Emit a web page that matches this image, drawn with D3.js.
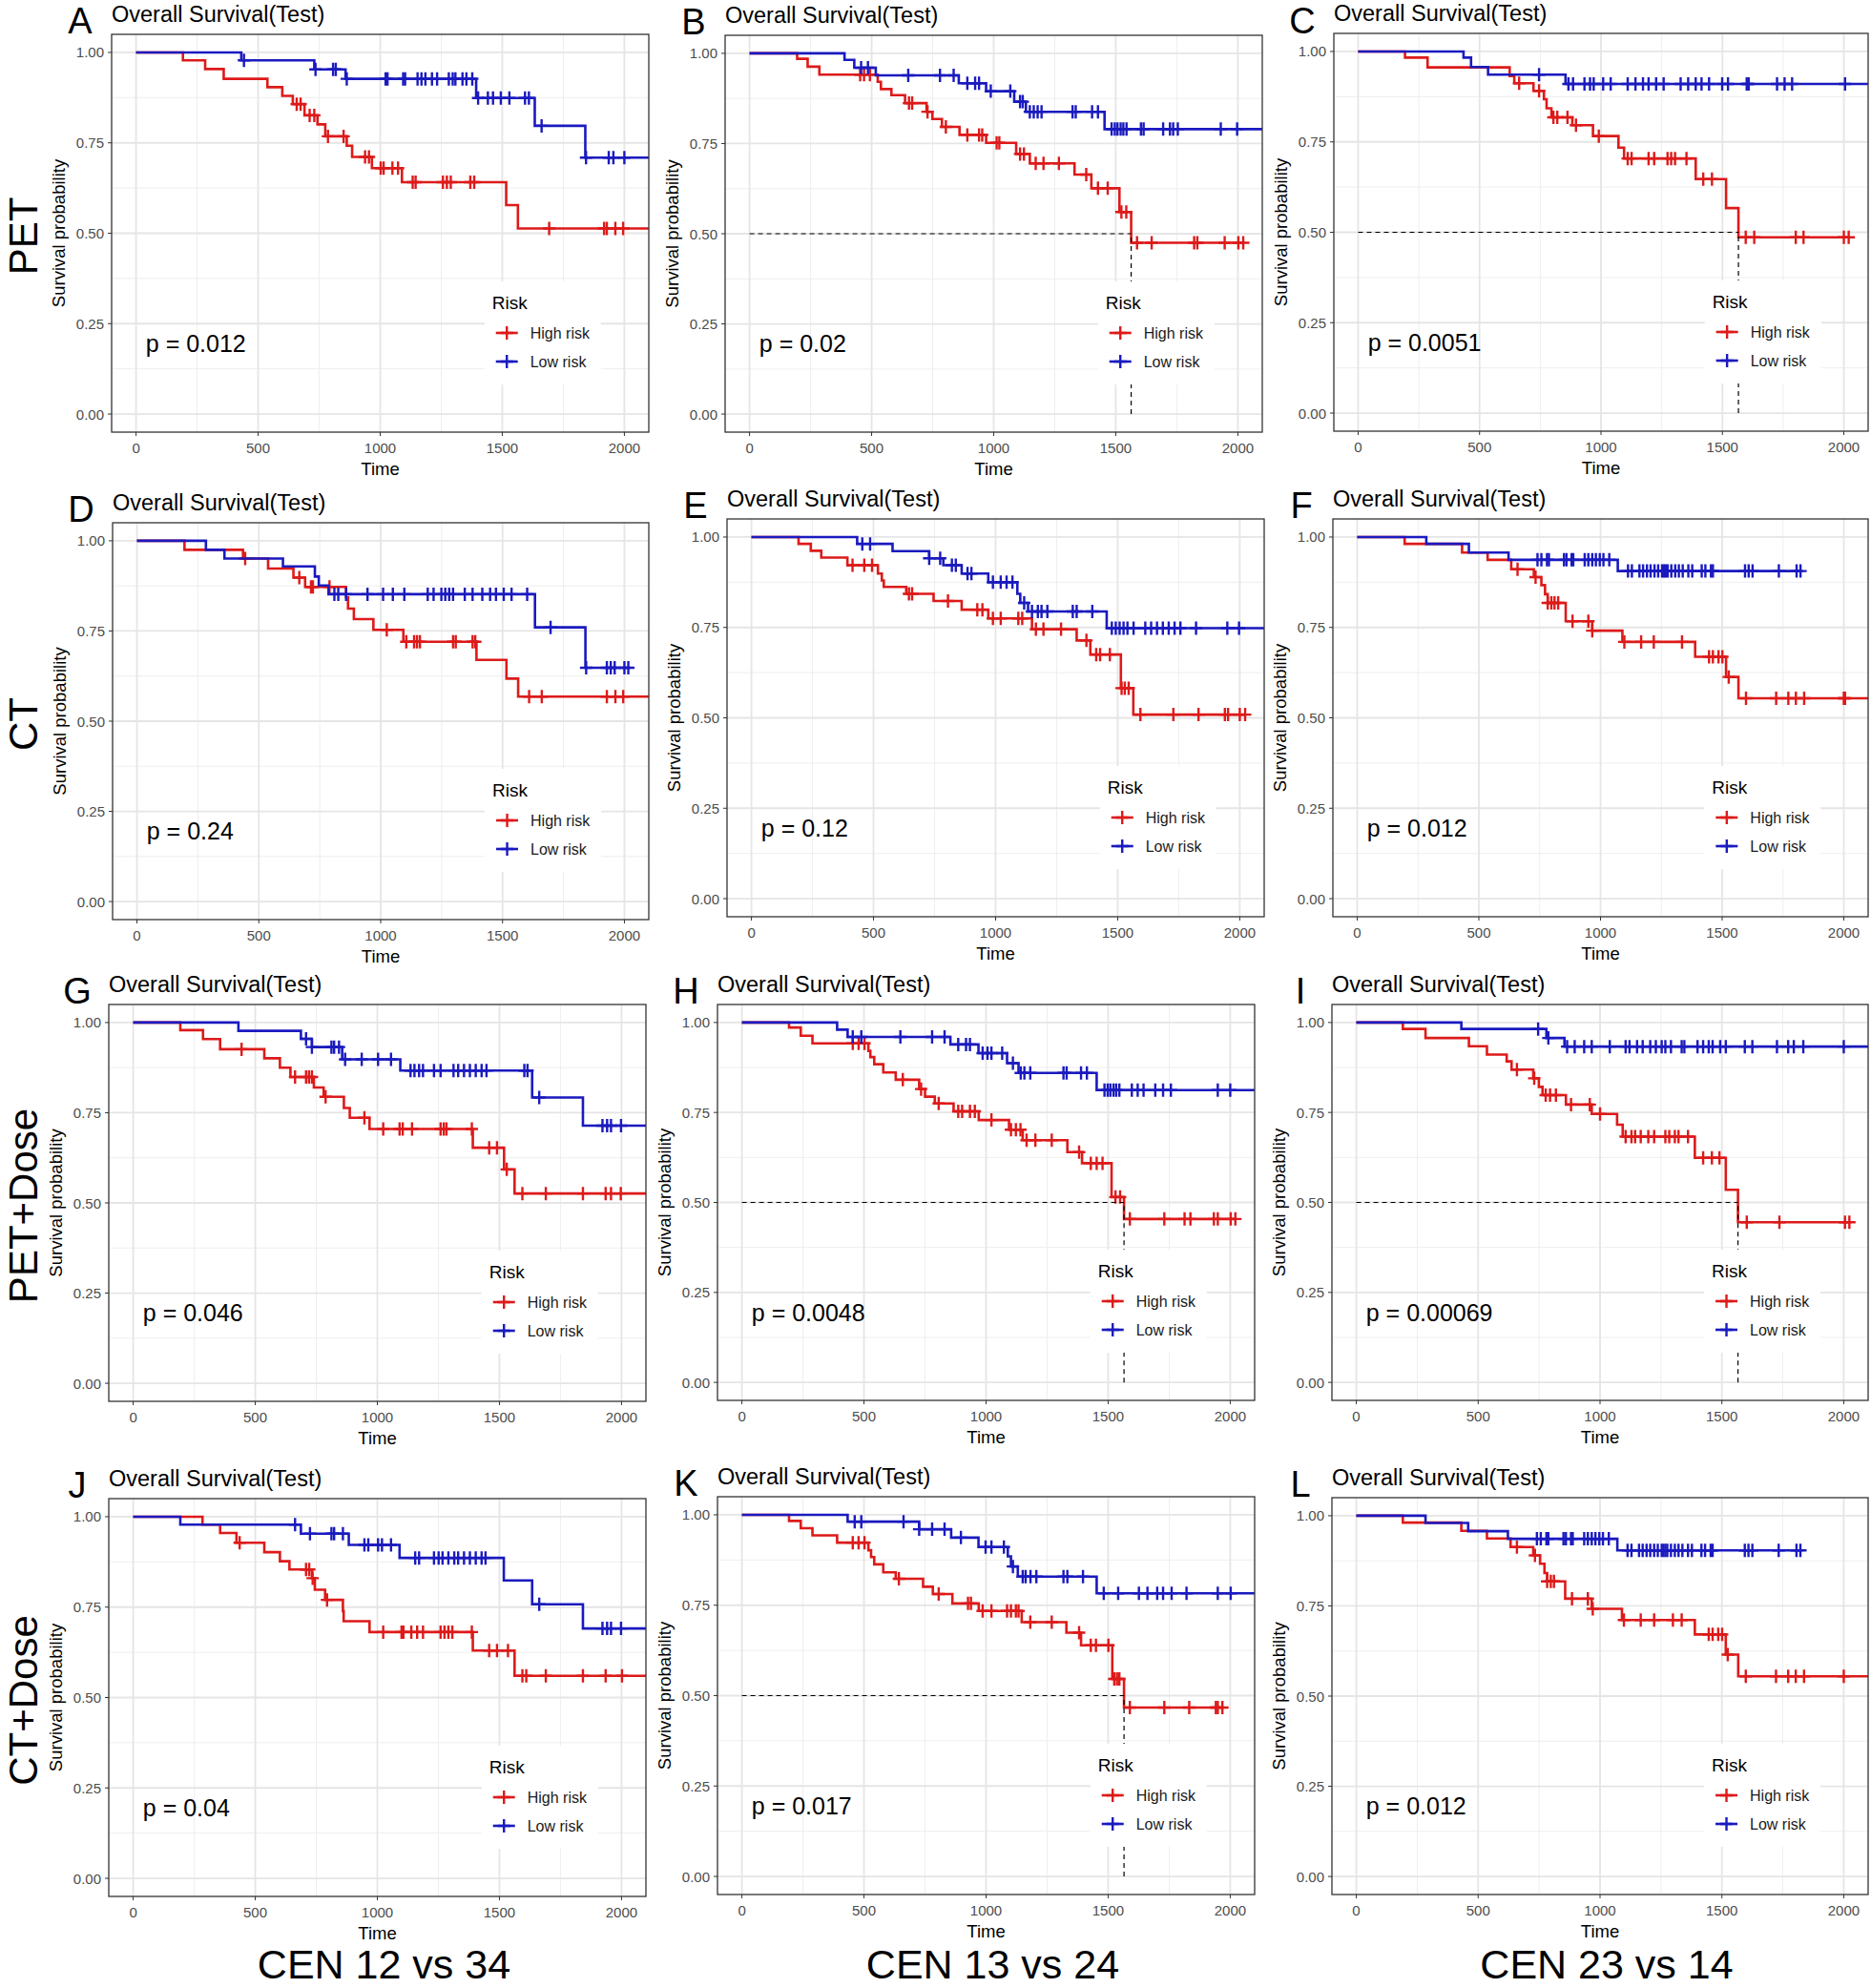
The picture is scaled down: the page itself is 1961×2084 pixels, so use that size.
<!DOCTYPE html>
<html><head><meta charset="utf-8">
<script src="https://cdn.jsdelivr.net/npm/d3@7"></script>
<style>body{margin:0;background:#fff}svg{display:block}</style>
</head><body><svg id="c" width="1961" height="2084"></svg>
<script>
// ---------------- DATA ----------------
const panelLetters = ["A","B","C","D","E","F","G","H","I","J","K","L"];
const rowLabels = ["PET","CT","PET+Dose","CT+Dose"];
const colLabels = ["CEN 12 vs 34","CEN 13 vs 24","CEN 23 vs 14"];
const plotTitle = "Overall Survival(Test)";
const pValues = ["0.012","0.02","0.0051","0.24","0.12","0.012","0.046","0.0048","0.00069","0.04","0.017","0.012"];
const groupNames = ["High risk","Low risk"];
const xTicks = [0,500,1000,1500,2000];
const yTicks = [0,0.25,0.5,0.75,1];
const yTickLabels = ["0.00","0.25","0.50","0.75","1.00"];

// steps: [time, survival after event]; censors: times
const A_high = [[192,0.978],[283,0.954],[359,0.927],[538,0.904],[599,0.880],[642,0.857],[690,0.826],[743,0.801],[775,0.768],[863,0.742],[885,0.711],[966,0.680],[1089,0.641],[1516,0.578],[1564,0.513]];
const A_highCens = [658,674,711,730,786,850,938,954,1002,1014,1050,1073,1133,1145,1257,1273,1289,1369,1385,1692,1917,1928,1963,1995,2150];
const A_low = [[431,0.978],[730,0.953],[858,0.927],[1393,0.874],[1633,0.797],[1840,0.709]];
const A_lowCens = [442,735,807,818,863,1022,1030,1094,1102,1153,1169,1185,1212,1233,1281,1297,1308,1337,1353,1377,1401,1441,1462,1494,1529,1593,1609,1661,1843,1936,1955,2000,2150];

const B_high = [[195,0.985],[238,0.963],[286,0.941],[525,0.921],[538,0.901],[581,0.884],[637,0.862],[725,0.838],[749,0.818],[788,0.796],[860,0.774],[969,0.752],[1092,0.721],[1148,0.695],[1331,0.664],[1400,0.626],[1515,0.560],[1563,0.475]];
const B_highCens = [453,469,493,653,666,729,804,892,940,953,1012,1023,1108,1124,1172,1204,1267,1379,1427,1467,1523,1543,1587,1647,1821,1834,1946,2002,2022];
const B_low = [[389,0.982],[429,0.960],[517,0.939],[857,0.917],[969,0.895],[1084,0.866],[1132,0.838],[1454,0.790]];
const B_lowCens = [457,485,650,780,836,892,924,940,988,1068,1108,1119,1148,1164,1180,1196,1323,1336,1403,1427,1483,1496,1507,1520,1531,1544,1603,1614,1694,1722,1735,1754,1930,1997,2150];

const C_high = [[193,0.983],[286,0.956],[624,0.932],[643,0.912],[722,0.891],[765,0.868],[776,0.843],[796,0.818],[882,0.796],[967,0.766],[1072,0.734],[1095,0.704],[1390,0.647],[1515,0.567],[1566,0.486]];
const C_highCens = [663,745,804,820,862,897,991,1110,1126,1196,1219,1274,1289,1305,1352,1421,1457,1596,1631,1802,1834,2000,2020];
const C_low = [[434,0.983],[465,0.957],[535,0.936],[854,0.910]];
const C_lowCens = [745,866,885,932,955,970,1009,1040,1110,1142,1173,1196,1227,1258,1328,1359,1390,1414,1445,1499,1523,1600,1608,1725,1756,1787,2005,2150];

const D_high = [[195,0.975],[435,0.951],[538,0.923],[642,0.898],[690,0.872],[858,0.843],[866,0.812],[890,0.783],[970,0.753],[1093,0.720],[1393,0.670],[1516,0.618],[1564,0.568]];
const D_highCens = [444,666,714,722,790,1025,1105,1137,1149,1161,1297,1308,1377,1388,1609,1661,1928,1963,1995,2150];
const D_low = [[283,0.975],[359,0.951],[599,0.929],[730,0.901],[746,0.876],[786,0.852],[1633,0.760],[1840,0.648]];
const D_lowCens = [810,826,858,946,1010,1050,1097,1193,1217,1249,1265,1281,1297,1345,1377,1417,1449,1473,1505,1537,1601,1697,1843,1928,1944,1960,2000,2016];

const E_high = [[193,0.981],[243,0.962],[286,0.943],[393,0.922],[518,0.899],[534,0.880],[542,0.862],[634,0.843],[746,0.823],[861,0.799],[970,0.775],[1149,0.745],[1332,0.714],[1388,0.675],[1513,0.582],[1564,0.509]];
const E_highCens = [414,462,494,645,658,805,925,946,989,1021,1093,1109,1165,1196,1268,1372,1412,1428,1468,1516,1529,1545,1593,1728,1831,1939,1952,2000,2022];
const E_low = [[433,0.981],[578,0.961],[728,0.941],[786,0.922],[861,0.899],[970,0.875],[1089,0.843],[1101,0.818],[1133,0.794],[1455,0.748]];
const E_lowCens = [454,486,728,773,821,837,885,901,989,1021,1045,1069,1117,1149,1173,1188,1212,1316,1332,1396,1476,1492,1508,1524,1540,1565,1613,1637,1661,1685,1709,1733,1757,1821,1949,1997,2150];

const F_high = [[195,0.981],[431,0.957],[536,0.937],[633,0.911],[726,0.889],[757,0.867],[772,0.842],[783,0.818],[857,0.767],[966,0.741],[1090,0.710],[1389,0.669],[1516,0.613],[1567,0.554]];
const F_highCens = [659,733,783,798,811,826,885,950,966,1098,1167,1219,1335,1446,1462,1485,1501,1527,1598,1722,1772,1803,1837,2000,2005,2150];
const F_low = [[284,0.981],[459,0.957],[622,0.937],[1071,0.906]];
const F_lowCens = [741,757,780,788,850,860,881,888,935,950,966,981,997,1012,1036,1113,1129,1160,1175,1191,1206,1222,1237,1253,1260,1268,1276,1291,1307,1322,1338,1361,1377,1416,1431,1454,1462,1594,1609,1625,1733,1806,1822];

const G_high = [[193,0.979],[286,0.954],[356,0.926],[537,0.901],[601,0.875],[644,0.849],[740,0.820],[780,0.794],[863,0.763],[887,0.736],[968,0.705],[1391,0.653],[1519,0.593],[1562,0.526]];
const G_highCens = [444,663,708,720,732,788,947,1024,1091,1104,1142,1259,1272,1283,1387,1458,1490,1530,1594,1690,1842,1935,1957,1997,2150];
const G_low = [[431,0.977],[687,0.955],[732,0.932],[856,0.898],[1094,0.867],[1634,0.792],[1842,0.714]];
const G_lowCens = [708,732,812,823,843,868,936,1003,1056,1136,1152,1171,1187,1232,1259,1312,1331,1355,1379,1403,1427,1447,1602,1615,1663,1922,1941,1957,1998,2150];

const H_high = [[193,0.986],[241,0.963],[289,0.942],[518,0.921],[526,0.904],[542,0.884],[579,0.861],[630,0.841],[726,0.815],[750,0.794],[790,0.775],[867,0.753],[970,0.729],[1094,0.702],[1150,0.673],[1333,0.640],[1393,0.609],[1514,0.515],[1565,0.454]];
const H_highCens = [454,478,502,659,734,806,886,902,934,954,1022,1102,1122,1141,1166,1202,1269,1381,1429,1453,1477,1530,1549,1589,1730,1813,1837,1933,1949,2002,2021];
const H_low = [[390,0.980],[433,0.960],[854,0.939],[969,0.915],[1086,0.887],[1133,0.860],[1453,0.812]];
const H_lowCens = [454,489,649,779,830,886,918,934,986,1006,1022,1066,1110,1142,1157,1181,1317,1330,1389,1413,1485,1498,1509,1522,1533,1546,1597,1621,1645,1693,1725,1757,1949,2000,2150];

const I_high = [[191,0.982],[284,0.957],[462,0.934],[536,0.911],[617,0.892],[637,0.869],[726,0.845],[749,0.821],[764,0.798],[860,0.772],[966,0.746],[1070,0.716],[1093,0.683],[1389,0.624],[1516,0.535],[1566,0.445]];
const I_highCens = [659,730,777,795,819,881,958,1000,1105,1129,1144,1167,1198,1222,1268,1284,1307,1322,1361,1423,1459,1490,1602,1736,2005,2023];
const I_low = [[431,0.982],[780,0.957],[854,0.933]];
const I_lowCens = [746,788,865,896,935,966,1040,1105,1121,1152,1175,1206,1229,1253,1268,1291,1335,1346,1400,1423,1446,1462,1493,1516,1594,1625,1726,1772,1795,1834,2000,2150];

const J_high = [[284,0.978],[356,0.955],[423,0.928],[537,0.902],[601,0.877],[640,0.854],[732,0.830],[744,0.798],[786,0.770],[859,0.739],[862,0.711],[968,0.681],[1391,0.630],[1562,0.560]];
const J_highCens = [436,708,721,735,794,1024,1099,1107,1139,1163,1187,1259,1275,1291,1307,1387,1458,1490,1535,1594,1610,1690,1842,1935,2002,2150];
const J_low = [[193,0.978],[687,0.953],[883,0.922],[1091,0.886],[1518,0.824],[1634,0.758],[1842,0.691]];
const J_lowCens = [663,724,812,823,859,947,963,1003,1019,1056,1155,1171,1232,1251,1267,1291,1315,1331,1355,1379,1403,1427,1443,1663,1922,1941,1957,1998,2150];

const K_high = [[193,0.983],[241,0.963],[289,0.943],[390,0.923],[518,0.902],[529,0.883],[542,0.863],[579,0.841],[630,0.823],[742,0.801],[782,0.781],[862,0.755],[970,0.734],[1146,0.703],[1329,0.674],[1389,0.639],[1517,0.546],[1565,0.467]];
const K_highCens = [454,478,502,643,806,926,938,986,1022,1086,1102,1122,1133,1181,1269,1381,1429,1450,1501,1525,1536,1546,1589,1730,1832,1941,1949,1968];
const K_low = [[433,0.981],[726,0.960],[857,0.937],[969,0.911],[1089,0.885],[1102,0.857],[1130,0.829],[1453,0.783]];
const K_lowCens = [462,489,662,726,779,830,897,998,1022,1073,1110,1150,1162,1182,1206,1317,1333,1397,1482,1541,1626,1661,1701,1725,1760,1821,1949,2002,2150];

const L_high = [[191,0.981],[431,0.958],[536,0.937],[633,0.913],[726,0.890],[754,0.867],[772,0.841],[783,0.818],[857,0.770],[966,0.742],[1090,0.711],[1389,0.671],[1516,0.615],[1567,0.555]];
const L_highCens = [659,733,783,798,811,885,950,970,1098,1167,1222,1299,1335,1446,1462,1485,1501,1524,1598,1722,1772,1803,1837,2000,2150];
const L_low = [[284,0.980],[459,0.957],[622,0.936],[1071,0.904]];
const L_lowCens = [741,757,780,788,850,860,881,888,935,950,966,981,997,1012,1036,1113,1129,1160,1175,1191,1206,1222,1237,1253,1260,1268,1276,1291,1307,1322,1338,1361,1377,1416,1431,1454,1462,1594,1609,1625,1733,1806,1822];

// ---------------- LAYOUT / STYLE ----------------
const curves = [
  [A_high,A_highCens,A_low,A_lowCens],[B_high,B_highCens,B_low,B_lowCens],[C_high,C_highCens,C_low,C_lowCens],
  [D_high,D_highCens,D_low,D_lowCens],[E_high,E_highCens,E_low,E_lowCens],[F_high,F_highCens,F_low,F_lowCens],
  [G_high,G_highCens,G_low,G_lowCens],[H_high,H_highCens,H_low,H_lowCens],[I_high,I_highCens,I_low,I_lowCens],
  [J_high,J_highCens,J_low,J_lowCens],[K_high,K_highCens,K_low,K_lowCens],[L_high,L_highCens,L_low,L_lowCens]];
const rects = [ // left, top, right, bottom
 [117,36,680,453],[760,37,1323,453],[1398,35,1958,452],
 [118,548,680,964],[762,544,1325,961],[1397,544,1958,961],
 [114,1053,677,1469],[752,1053,1315,1468],[1396,1053,1958,1468],
 [114,1571,677,1988],[752,1569,1315,1986],[1396,1570,1958,1986]];
const colors = ["#DD1A1A","#1A1ABF"];
const AX = "Liberation Sans, Arial, sans-serif";

const svg = d3.select("#c");
svg.append("rect").attr("width",1961).attr("height",2084).attr("fill","#fff");
const defs = svg.append("defs");
const plus = "M-6.5,0H6.5M0,-7V7";

function survAt(steps,t){let s=1;for(const [tt,ss] of steps){if(tt<=t)s=ss;else break;}return s;}

rects.forEach((r,i)=>{
  const [L,T,R,B] = r;
  const x = d3.scaleLinear().domain([-100,2100]).range([L,R]);
  const y = d3.scaleLinear().domain([-0.05,1.05]).range([B,T]);
  const g = svg.append("g");
  defs.append("clipPath").attr("id","cp"+i).append("rect").attr("x",L).attr("y",T).attr("width",R-L).attr("height",B-T);
  // grid
  const minorX=[250,750,1250,1750], minorY=[0.125,0.375,0.625,0.875];
  const grid = g.append("g");
  grid.selectAll(".mx").data(minorX).join("line").attr("x1",d=>x(d)).attr("x2",d=>x(d)).attr("y1",T).attr("y2",B).attr("stroke","#eeeeee").attr("stroke-width",1);
  grid.selectAll(".my").data(minorY).join("line").attr("y1",d=>y(d)).attr("y2",d=>y(d)).attr("x1",L).attr("x2",R).attr("stroke","#eeeeee").attr("stroke-width",1);
  grid.selectAll(".Mx").data(xTicks).join("line").attr("x1",d=>x(d)).attr("x2",d=>x(d)).attr("y1",T).attr("y2",B).attr("stroke","#e5e5e5").attr("stroke-width",1.8);
  grid.selectAll(".My").data(yTicks).join("line").attr("y1",d=>y(d)).attr("y2",d=>y(d)).attr("x1",L).attr("x2",R).attr("stroke","#e5e5e5").attr("stroke-width",1.8);

  const plot = g.append("g").attr("clip-path","url(#cp"+i+")");
  const [hS,hC,lS,lC] = curves[i];
  const sets = [[hS,hC],[lS,lC]];
  const line = d3.line().x(d=>x(d[0])).y(d=>y(d[1])).curve(d3.curveStepAfter);
  sets.forEach(([steps,cens],k)=>{
    const end = Math.max(d3.max(cens), steps[steps.length-1][0]);
    const pts = [[0,1],...steps,[end,steps[steps.length-1][1]]];
    plot.append("path").attr("d",line(pts)).attr("fill","none").attr("stroke",colors[k]).attr("stroke-width",2.6);
    plot.selectAll(null).data(cens).join("path").attr("d",plus)
      .attr("transform",d=>`translate(${x(d)},${y(survAt(steps,d))})`)
      .attr("stroke",colors[k]).attr("stroke-width",2.4).attr("fill","none");
  });
  // median lines
  sets.forEach(([steps])=>{
    const m = steps.find(d=>d[1]<=0.5);
    if(!m) return;
    plot.append("line").attr("x1",x(0)).attr("x2",x(m[0])).attr("y1",y(0.5)).attr("y2",y(0.5))
      .attr("stroke","#000").attr("stroke-width",1.2).attr("stroke-dasharray","5,4");
    plot.append("line").attr("x1",x(m[0])).attr("x2",x(m[0])).attr("y1",y(0)).attr("y2",y(0.5))
      .attr("stroke","#000").attr("stroke-width",1.2).attr("stroke-dasharray","5,4");
  });
  // p-value
  g.append("text").attr("x",x(40)).attr("y",y(0.195)).attr("dominant-baseline","central")
    .attr("font-family",AX).attr("font-size",25).attr("fill","#000").text("p = "+pValues[i]);
  // legend
  const bx = L + 0.694*(R-L);
  const lg = g.append("g");
  lg.append("rect").attr("x",bx).attr("y",B-158).attr("width",122).attr("height",108).attr("fill","#fff");
  lg.append("text").attr("x",bx+8).attr("y",B-136).attr("dominant-baseline","central")
    .attr("font-family",AX).attr("font-size",19).attr("fill","#000").text("Risk");
  groupNames.forEach((nm,k)=>{
    const yy = B-104+30*k;
    lg.append("line").attr("x1",bx+12).attr("x2",bx+35).attr("y1",yy).attr("y2",yy).attr("stroke",colors[k]).attr("stroke-width",2.6);
    lg.append("path").attr("d",plus).attr("transform",`translate(${bx+23.5},${yy})`).attr("stroke",colors[k]).attr("stroke-width",2.4);
    lg.append("text").attr("x",bx+48).attr("y",yy).attr("dominant-baseline","central")
      .attr("font-family",AX).attr("font-size",16).attr("fill","#1a1a1a").text(nm);
  });
  // border
  g.append("rect").attr("x",L).attr("y",T).attr("width",R-L).attr("height",B-T).attr("fill","none").attr("stroke","#333").attr("stroke-width",1.3);
  // axes ticks
  g.selectAll(".yt").data(yTicks).join("line").attr("x1",L-4).attr("x2",L).attr("y1",d=>y(d)).attr("y2",d=>y(d)).attr("stroke","#333");
  g.selectAll(".yl").data(yTicks).join("text").attr("x",L-8).attr("y",d=>y(d)).attr("dominant-baseline","central")
    .attr("text-anchor","end").attr("font-family",AX).attr("font-size",15).attr("fill","#4d4d4d").text((d,j)=>yTickLabels[j]);
  g.selectAll(".xt").data(xTicks).join("line").attr("x1",d=>x(d)).attr("x2",d=>x(d)).attr("y1",B).attr("y2",B+4).attr("stroke","#333");
  g.selectAll(".xl").data(xTicks).join("text").attr("x",d=>x(d)).attr("y",B+22).attr("text-anchor","middle")
    .attr("font-family",AX).attr("font-size",15).attr("fill","#4d4d4d").text(d=>d);
  g.append("text").attr("x",(L+R)/2).attr("y",B+45).attr("text-anchor","middle").attr("font-family",AX).attr("font-size",18.5).attr("fill","#000").text("Time");
  g.append("text").attr("transform",`translate(${L-49},${(T+B)/2}) rotate(-90)`).attr("text-anchor","middle")
    .attr("font-family",AX).attr("font-size",18.5).attr("fill","#000").text("Survival probability");
  // title & letter
  g.append("text").attr("x",L).attr("y",T-13).attr("font-family",AX).attr("font-size",23.5).attr("fill","#000").text(plotTitle);
  g.append("text").attr("x",L-33).attr("y",Math.max(T-1,35)).attr("text-anchor","middle").attr("font-family",AX).attr("font-size",38).attr("fill","#000").text(panelLetters[i]);
});

// row labels
rowLabels.forEach((t,r)=>{
  const [L,T,R,B] = rects[r*3];
  svg.append("text").attr("transform",`translate(39,${(T+B)/2+3}) rotate(-90)`).attr("text-anchor","middle")
    .attr("font-family",AX).attr("font-size",42).attr("fill","#000").text(t);
});
// column labels
colLabels.forEach((t,c)=>{
  const [L,T,R,B] = rects[9+c];
  svg.append("text").attr("x",(L+R)/2+7).attr("y",2074).attr("text-anchor","middle")
    .attr("font-family",AX).attr("font-size",43).attr("fill","#000").text(t);
});
</script></body></html>
